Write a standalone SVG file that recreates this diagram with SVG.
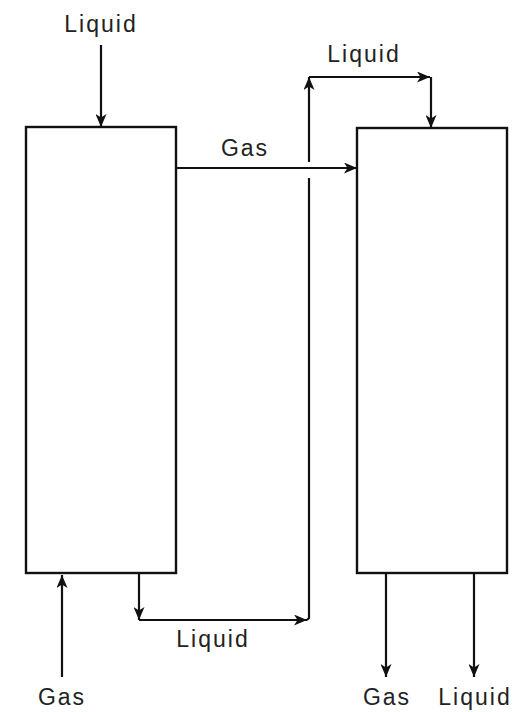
<svg xmlns="http://www.w3.org/2000/svg" width="519" height="712" viewBox="0 0 519 712">
<style>
.box{fill:#fff;stroke:#111;stroke-width:2.4}
.ln{fill:none;stroke:#111;stroke-width:2.2}
.lbl{font-family:"Liberation Sans",Arial,sans-serif;font-size:23px;letter-spacing:2px;fill:#222;text-anchor:middle}
</style>
<defs>
<marker id="ah" viewBox="0 0 13 11" refX="13" refY="5.5" markerWidth="13" markerHeight="11" markerUnits="userSpaceOnUse" orient="auto">
<path d="M0,0 L13,5.5 L0,11 L3.5,5.5 z" fill="#111"/>
</marker>
</defs>
<g id="column1"><rect class="box" x="26" y="127" width="150" height="446"/></g>
<g id="column2"><rect class="box" x="357" y="128" width="150" height="445"/></g>
<g id="connectors">
<line class="ln" x1="101" y1="45" x2="101" y2="127" marker-end="url(#ah)"/>
<line class="ln" x1="176" y1="168" x2="357" y2="168" marker-end="url(#ah)"/>
<line class="ln" x1="62" y1="677" x2="62" y2="575" marker-end="url(#ah)"/>
<line class="ln" x1="139" y1="573" x2="139" y2="620" marker-end="url(#ah)"/>
<line class="ln" x1="139" y1="620" x2="307" y2="620" marker-end="url(#ah)"/>
<path class="ln" d="M307,620 L309,618 L309,178"/>
<line class="ln" x1="309" y1="162" x2="309" y2="77" marker-end="url(#ah)"/>
<line class="ln" x1="309" y1="77" x2="430" y2="77" marker-end="url(#ah)"/>
<line class="ln" x1="431" y1="77" x2="431" y2="128" marker-end="url(#ah)"/>
<line class="ln" x1="386" y1="573" x2="386" y2="677" marker-end="url(#ah)"/>
<line class="ln" x1="474" y1="573" x2="474" y2="677" marker-end="url(#ah)"/>
</g>
<g id="labels">
<text class="lbl" x="101" y="32">Liquid</text>
<text class="lbl" x="245" y="156">Gas</text>
<text class="lbl" x="364" y="62">Liquid</text>
<text class="lbl" x="213" y="647">Liquid</text>
<text class="lbl" x="62" y="705">Gas</text>
<text class="lbl" x="387" y="705">Gas</text>
<text class="lbl" x="475" y="705">Liquid</text>
</g>
</svg>
